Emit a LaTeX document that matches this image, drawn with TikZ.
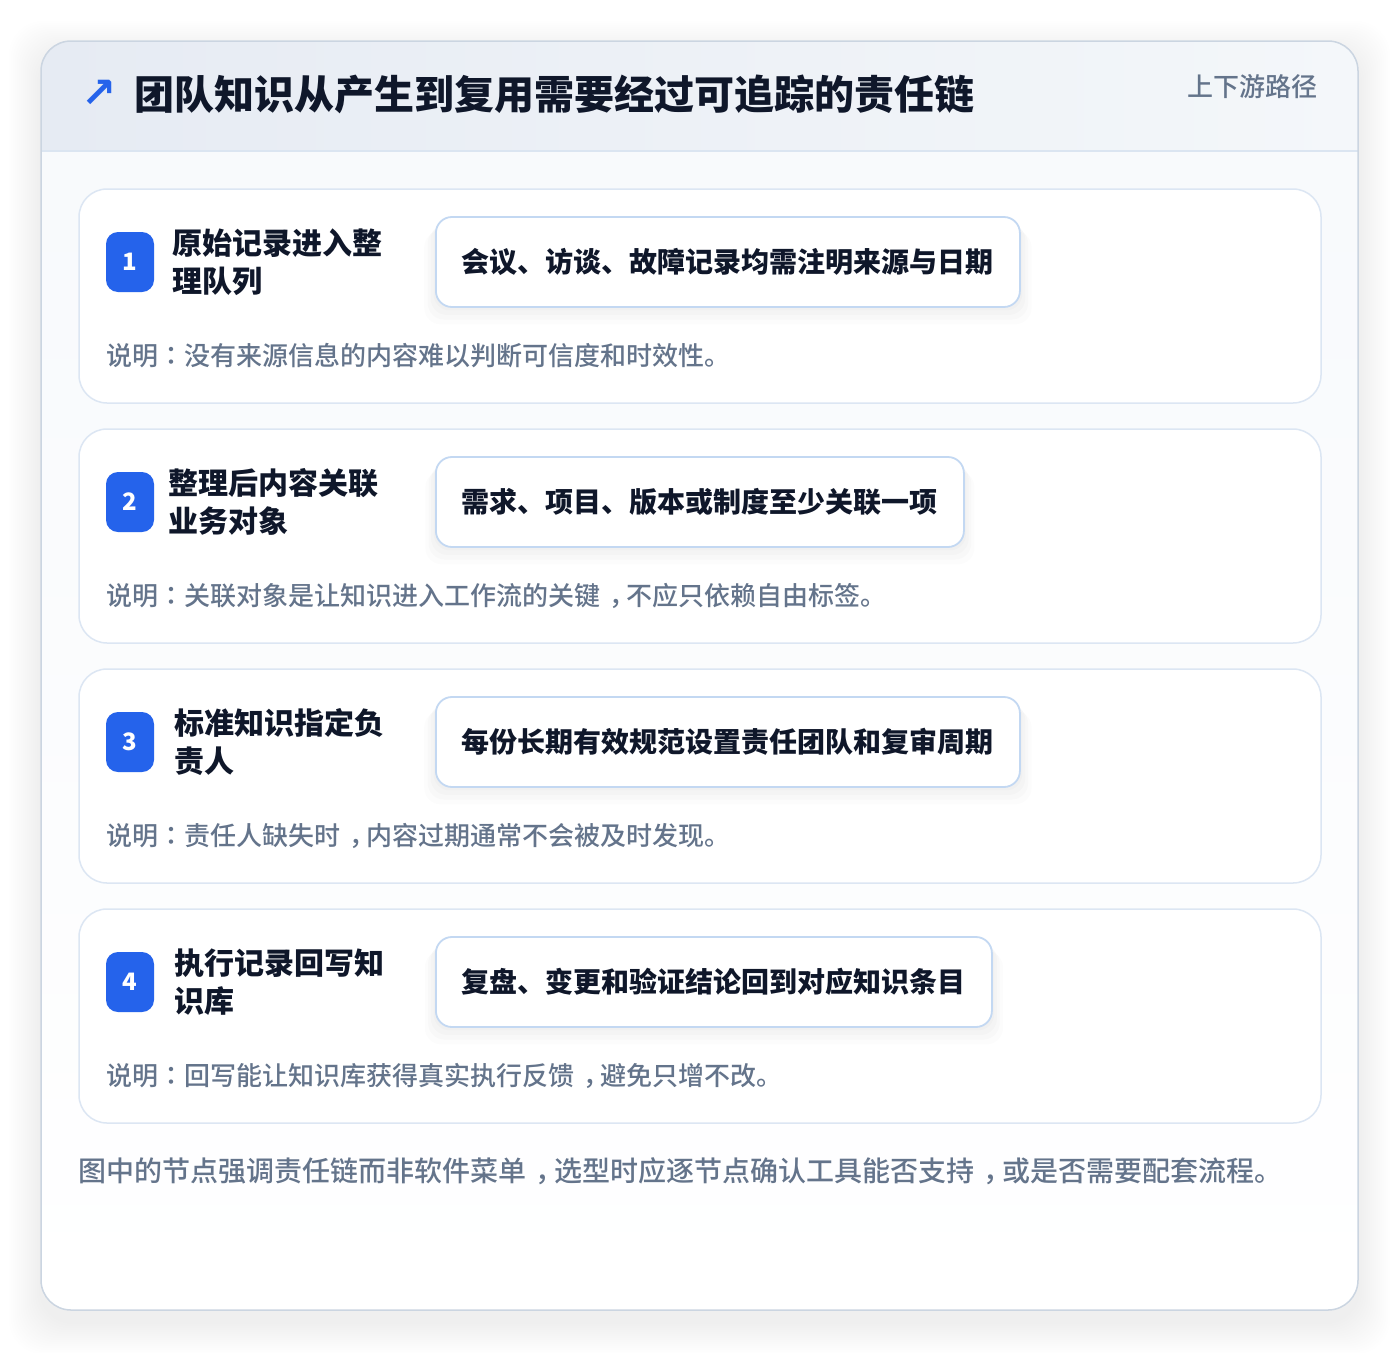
\documentclass[tikz,border=0pt]{standalone}
\usepackage{fontspec}
\setmainfont{Noto Sans CJK SC}
\newfontfamily\midfont{Noto Sans CJK SC Medium}
\newfontfamily\puncfont{Noto Sans CJK TC Medium}
\newfontfamily\symfont{DejaVu Sans}
\newcommand{\zhcomma}{\hspace*{0.34em}，\hspace*{-0.34em}}
\newcommand{\zhcolon}{{\puncfont ：}}
\usetikzlibrary{positioning,shadows}
\definecolor{accent}{HTML}{2563EB}
\definecolor{ink}{HTML}{0F172A}
\definecolor{muted}{HTML}{64748B}
\definecolor{panelline}{HTML}{CBD5E1}
\definecolor{sepline}{HTML}{DBE5F1}
\definecolor{cardline}{HTML}{DCE6F3}
\definecolor{boxline}{HTML}{C3D8F2}
\definecolor{headL}{HTML}{E6EBF3}
\definecolor{headR}{HTML}{F4F7FA}
\definecolor{paneltop}{HTML}{F7F9FC}
\tikzset{stepcard/.style={draw=cardline, fill=white, line width=1.5pt, outer sep=0pt, rounded corners=28pt, minimum width=1242pt, minimum height=214pt},
badge/.style={fill=accent, rounded corners=12pt, minimum width=48pt, minimum height=60pt, inner sep=0pt, text=white, font=\fontsize{24}{24}\selectfont\bfseries},
steptitle/.style={align=left, inner sep=0pt, text=ink, font=\fontsize{30}{38}\selectfont\bfseries},
softshadow/.style={general shadow={fill=black, opacity=0.015, shadow yshift=-3pt, shadow scale=1.008},
  general shadow={fill=black, opacity=0.015, shadow yshift=-7pt, shadow scale=1.018},
  general shadow={fill=black, opacity=0.015, shadow yshift=-11pt, shadow scale=1.028},
  general shadow={fill=black, opacity=0.012, shadow yshift=-15pt, shadow scale=1.04}},
factbox/.style={draw=boxline, fill=white, line width=1.8pt, rounded corners=16pt, minimum height=90pt, inner xsep=26pt, anchor=west, text=ink, font=\fontsize{28}{28}\selectfont\bfseries, softshadow},
note/.style={anchor=west, inner sep=0pt, text=muted, font=\midfont\fontsize{26}{26}\selectfont}}

\begin{document}
\begin{tikzpicture}[x=1pt,y=-1pt]
\useasboundingbox (0,0) rectangle (1400,1352);
% Panel and its soft shadow
\foreach \s in {2,4,...,32}
  \fill[black, opacity=0.005, rounded corners=34pt] (41-\s,41-\s+12) rectangle (1358+\s,1310+\s+12);
\fill[top color=paneltop, bottom color=white, rounded corners=30pt] (41,41) rectangle (1358,1310);
\begin{scope}
\clip[rounded corners=30pt] (41,41) rectangle (1358,1310);
\shade[left color=headL, right color=headR] (41,41) rectangle (1358,151);
\end{scope}
\draw[sepline, line width=1.5pt] (41,151) -- (1358,151);
\draw[panelline, line width=1.5pt, rounded corners=30pt] (41,41) rectangle (1358,1310);

% Header
\node[text=accent, font=\symfont\fontsize{42}{42}\selectfont\bfseries, inner sep=0pt] (icon) at (99,94) {↗};
\node[anchor=west, inner sep=0pt, text=ink, font=\fontsize{40}{40}\selectfont\bfseries] (title) at (134,94) {团队知识从产生到复用需要经过可追踪的责任链};
\node[anchor=east, inner sep=0pt, text=muted, font=\midfont\fontsize{26}{26}\selectfont] (route) at (1318,87) {上下游路径};

% Steps
\node[stepcard] (card1) at (700,296) {};
\node[stepcard, below=26pt of card1] (card2) {};
\node[stepcard, below=26pt of card2] (card3) {};
\node[stepcard, below=26pt of card3] (card4) {};

\node[badge] (n1) at (130,262) {1};
\node[steptitle, right=18pt of n1] (t1) {原始记录进入整\\理队列};
\node[factbox] (f1) at (435,262) {会议、访谈、故障记录均需注明来源与日期};
\node[note] (d1) at (106,356) {说明\zhcolon 没有来源信息的内容难以判断可信度和时效性。};

\node[badge] (n2) at (130,502) {2};
\node[steptitle, right=14pt of n2] (t2) {整理后内容关联\\业务对象};
\node[factbox] (f2) at (435,502) {需求、项目、版本或制度至少关联一项};
\node[note] (d2) at (106,596) {说明\zhcolon 关联对象是让知识进入工作流的关键\zhcomma 不应只依赖自由标签。};

\node[badge] (n3) at (130,742) {3};
\node[steptitle, right=20pt of n3] (t3) {标准知识指定负\\责人};
\node[factbox] (f3) at (435,742) {每份长期有效规范设置责任团队和复审周期};
\node[note] (d3) at (106,836) {说明\zhcolon 责任人缺失时\zhcomma 内容过期通常不会被及时发现。};

\node[badge] (n4) at (130,982) {4};
\node[steptitle, right=20pt of n4] (t4) {执行记录回写知\\识库};
\node[factbox] (f4) at (435,982) {复盘、变更和验证结论回到对应知识条目};
\node[note] (d4) at (106,1076) {说明\zhcolon 回写能让知识库获得真实执行反馈\zhcomma 避免只增不改。};

% Footer
\node[note, font=\midfont\fontsize{28}{28}\selectfont] (foot) at (78,1171) {图中的节点强调责任链而非软件菜单\zhcomma 选型时应逐节点确认工具能否支持\zhcomma 或是否需要配套流程。};
\end{tikzpicture}
\end{document}
